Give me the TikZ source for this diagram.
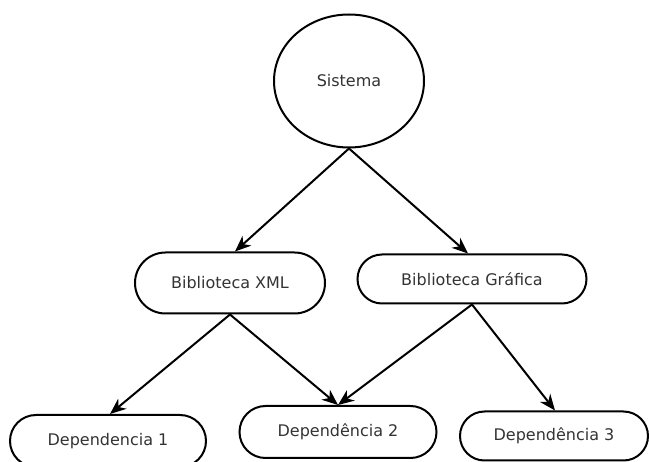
\documentclass[tikz,border=0pt]{standalone}
\usepackage{fontspec}
\setmainfont{DejaVu Sans}
\usetikzlibrary{shapes.misc,shapes.geometric,arrows.meta}
\begin{document}
\begin{tikzpicture}[x=1pt,y=-1pt,
  every node/.style={font=\fontsize{16}{18}\selectfont, text=black!80},
  pill/.style={draw=black, rounded rectangle, line width=2pt, inner sep=0pt},
  conn/.style={draw, line width=2pt, -{Stealth[length=16pt,width=13pt,inset=5pt]}}]
\clip (0,0) rectangle (649,462);
\useasboundingbox (0,0) rectangle (649,462);
\node[draw=black, ellipse, line width=2pt, minimum width=150pt, minimum height=133pt, inner sep=0pt] (sis) at (349,81) {Sistema};
\node[pill, minimum width=190pt, minimum height=61pt] (bx) at (230,283) {Biblioteca XML};
\node[pill, minimum width=229pt, minimum height=49pt] (bg) at (472,279) {Biblioteca Gráfica};
\node[pill, minimum width=196pt, minimum height=52pt] (d1) at (108,441) {Dependencia 1};
\node[pill, minimum width=197pt, minimum height=52pt] (d2) at (338,432) {Dependência 2};
\node[pill, minimum width=188pt, minimum height=49pt] (d3) at (554,436) {Dependência 3};
\draw[conn] (sis.south) -- ([xshift=5pt]bx.north);
\draw[conn] (sis.south) -- ([xshift=-4pt]bg.north);
\draw[conn] (bx.south) -- ([xshift=2pt]d1.north);
\draw[conn] (bx.south) -- (d2.north);
\draw[conn] (bg.south) -- (d2.north);
\draw[conn] (bg.south) -- ([xshift=1pt]d3.north);
\end{tikzpicture}
\end{document}
